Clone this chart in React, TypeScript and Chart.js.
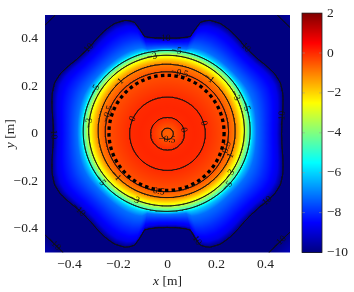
import React, { useEffect, useRef } from "react";
import { Chart, registerables } from "chart.js";
Chart.register(...registerables);

// ---- axes ----
const X_RANGE = [-0.5, 0.5];
const Y_RANGE = [-0.5, 0.5];
const CB_RANGE = [-10, 2];
const X_TICKS = [-0.4, -0.2, 0, 0.2, 0.4];
const Y_TICKS = [-0.4, -0.2, 0, 0.2, 0.4];
const CB_TICKS = [-10, -8, -6, -4, -2, 0, 2];

// ---- field ----
// radial profile inside the -5 contour (radius m -> value)
const profileR = [0, 0.024, 0.068, 0.11, 0.155, 0.205, 0.252, 0.28, 0.3, 0.318, 0.341];
const profileV = [-0.65, -0.5, 0, 0.06, 0, -0.25, -0.5, -1, -2, -3, -5];
// radius of the -10 contour vs polar angle (first quadrant, mirrored)
const edgeAngle = [0, 5, 10, 15, 20, 25, 30, 35, 40, 45, 50, 55, 60, 65, 70, 72, 74, 75.5, 77, 80, 85, 90];
const edgeR = [0.465, 0.468, 0.476, 0.488, 0.5, 0.508, 0.505, 0.495, 0.485, 0.482, 0.485, 0.495, 0.505, 0.512, 0.508, 0.5, 0.488, 0.455, 0.418, 0.408, 0.4, 0.398];
// fall-off between the -5 and -10 contours (normalised distance -> value)
const falloffU = [0, 0.08, 0.2, 0.5, 0.85, 1];
const falloffV = [-5, -6.2, -7.2, -8, -8.8, -10];
// corner cut |x|+|y| where the field climbs back to -10 (TL, TR, BL, BR)
const cornerSum = [0.958, 0.948, 0.926, 0.914];
const fieldShift = [-0.004, 0.014];

const contourLevels = [-10, -5, -3, -1, -0.5, 0];
const ringCenter = [-0.004, 0.004];
const ringRadius = 0.235;

// contour labels: level, direction from centre (deg), which crossing along the ray
const labelLevel = [-10, -10, -10, -10, -10, -10, -10, -10, -10, -10, -5, -5, -5, -5, -5, -3, -3, -3, -3, -3, -1, -1, -1, -1, -0.5, -0.5, -0.5, -0.5, -0.5, 0, 0, 0];
const labelAngle = [92.5, 133, 50, 8, 179, 221.5, 324, 284.5, 225, 315, 84, 148, 20, 216, 318, 101, 172, 30, 326, 244, 54, 133, 220, 338, 79, 161, 259, 344, 265, 156, 16.5, 14];
const labelNth = [1, 1, 1, 1, 1, 1, 1, 1, 2, 2, 1, 1, 1, 1, 1, 1, 1, 1, 1, 1, 1, 1, 1, 1, 2, 2, 2, 2, 1, 2, 2, 1];

// jet colormap
const jetPos = [0, 1 / 8, 3 / 8, 5 / 8, 7 / 8, 1];
const jetRGB = [[0, 0, 128], [0, 0, 255], [0, 255, 255], [255, 255, 0], [255, 0, 0], [128, 0, 0]];

const FONT = "'Liberation Serif', 'Times New Roman', serif";

function lerpTable(xs: number[], ys: number[], x: number): number {
  if (x <= xs[0]) return ys[0];
  for (let i = 1; i < xs.length; i++) {
    if (x <= xs[i]) {
      const t = (x - xs[i - 1]) / (xs[i] - xs[i - 1]);
      return ys[i - 1] + t * (ys[i] - ys[i - 1]);
    }
  }
  return ys[ys.length - 1];
}

function jet(v: number): number[] {
  let t = (v - CB_RANGE[0]) / (CB_RANGE[1] - CB_RANGE[0]);
  t = Math.max(0, Math.min(1, t));
  for (let i = 1; i < jetPos.length; i++) {
    if (t <= jetPos[i]) {
      const f = (t - jetPos[i - 1]) / (jetPos[i] - jetPos[i - 1]);
      const a = jetRGB[i - 1], b = jetRGB[i];
      return [a[0] + f * (b[0] - a[0]), a[1] + f * (b[1] - a[1]), a[2] + f * (b[2] - a[2])];
    }
  }
  return jetRGB[jetRGB.length - 1];
}

function field(x: number, y: number): number {
  const r0 = Math.hypot(x, y);
  const w = Math.exp(-Math.pow((r0 - 0.31) / 0.08, 2));
  const dx = x - fieldShift[0] * w;
  const dy = y - fieldShift[1] * w;
  const r = Math.hypot(dx, dy);
  const r5 = profileR[profileR.length - 1];
  let v: number;
  if (r <= r5) v = lerpTable(profileR, profileV, r);
  else {
    const th = (Math.atan2(Math.abs(dy), Math.abs(dx)) * 180) / Math.PI;
    const r10 = lerpTable(edgeAngle, edgeR, th);
    const u = (r - r5) / (r10 - r5);
    v = u <= 1 ? lerpTable(falloffU, falloffV, u) : Math.max(-12, -10 - 30 * (r - r10));
  }
  const q = (x < 0 ? 0 : 1) + (y < 0 ? 2 : 0);
  const vc = -10 + 8 * (Math.abs(x) + Math.abs(y) - cornerSum[q]);
  return Math.max(v, vc);
}

function fmt(v: number): string {
  return v < 0 ? "\u2212" + String(Math.abs(v)) : String(v);
}

const fieldPlugin = {
  id: "fieldPlugin",
  beforeDatasetsDraw(chart: any) {
    const { ctx, chartArea: a } = chart;
    const xs = chart.scales.x, ys = chart.scales.y;
    const L = Math.floor(a.left), T = Math.floor(a.top);
    const W = Math.ceil(a.right) - L, H = Math.ceil(a.bottom) - T;
    const off = document.createElement("canvas");
    off.width = W; off.height = H;
    const octx = off.getContext("2d")!;
    const img = octx.createImageData(W, H);
    for (let j = 0; j < H; j++) {
      const yv = ys.getValueForPixel(T + j + 0.5);
      for (let i = 0; i < W; i++) {
        const xv = xs.getValueForPixel(L + i + 0.5);
        const c = jet(field(xv, yv));
        const k = (j * W + i) * 4;
        img.data[k] = c[0]; img.data[k + 1] = c[1]; img.data[k + 2] = c[2]; img.data[k + 3] = 255;
      }
    }
    octx.putImageData(img, 0, 0);
    ctx.save();
    ctx.beginPath();
    ctx.rect(a.left, a.top, a.right - a.left, a.bottom - a.top);
    ctx.clip();
    ctx.drawImage(off, L, T);

    // contour lines (marching squares on a data grid)
    const N = 280;
    const gxv: number[] = [], gyv: number[] = [];
    for (let i = 0; i <= N; i++) {
      gxv.push(X_RANGE[0] + ((X_RANGE[1] - X_RANGE[0]) * i) / N);
      gyv.push(Y_RANGE[0] + ((Y_RANGE[1] - Y_RANGE[0]) * i) / N);
    }
    const vals = new Float64Array((N + 1) * (N + 1));
    for (let j = 0; j <= N; j++) for (let i = 0; i <= N; i++) vals[j * (N + 1) + i] = field(gxv[i], gyv[j]);
    const V = (i: number, j: number) => vals[j * (N + 1) + i];
    ctx.strokeStyle = "#111";
    ctx.lineWidth = 0.8;
    ctx.lineCap = "round";
    const seg = (p: number[], q: number[]) => {
      ctx.moveTo(xs.getPixelForValue(p[0]), ys.getPixelForValue(p[1]));
      ctx.lineTo(xs.getPixelForValue(q[0]), ys.getPixelForValue(q[1]));
    };
    for (const lev of contourLevels) {
      ctx.beginPath();
      for (let j = 0; j < N; j++) {
        for (let i = 0; i < N; i++) {
          const va = V(i, j), vb = V(i + 1, j), vc = V(i + 1, j + 1), vd = V(i, j + 1);
          const sa = va >= lev, sb = vb >= lev, sc = vc >= lev, sd = vd >= lev;
          if (sa === sb && sb === sc && sc === sd) continue;
          const x0 = gxv[i], x1 = gxv[i + 1], y0 = gyv[j], y1 = gyv[j + 1];
          const p: (number[] | null)[] = [null, null, null, null];
          if (sa !== sb) { const t = (lev - va) / (vb - va); p[0] = [x0 + t * (x1 - x0), y0]; }
          if (sb !== sc) { const t = (lev - vb) / (vc - vb); p[1] = [x1, y0 + t * (y1 - y0)]; }
          if (sc !== sd) { const t = (lev - vc) / (vd - vc); p[2] = [x1 - t * (x1 - x0), y1]; }
          if (sd !== sa) { const t = (lev - vd) / (va - vd); p[3] = [x0, y1 - t * (y1 - y0)]; }
          const list = p.filter((e) => e) as number[][];
          if (list.length === 2) seg(list[0], list[1]);
          else if (list.length === 4) {
            const ctr = (va + vb + vc + vd) / 4 >= lev;
            if (ctr === sa) { seg(p[0]!, p[1]!); seg(p[2]!, p[3]!); }
            else { seg(p[0]!, p[3]!); seg(p[1]!, p[2]!); }
          }
        }
      }
      ctx.stroke();
    }

    // dashed ring
    const cx = xs.getPixelForValue(ringCenter[0]), cy = ys.getPixelForValue(ringCenter[1]);
    const rp = xs.getPixelForValue(ringCenter[0] + ringRadius) - cx;
    ctx.beginPath();
    ctx.setLineDash([3.5, 3.3]);
    ctx.lineCap = "butt";
    ctx.lineWidth = 3.3;
    ctx.strokeStyle = "#000";
    ctx.arc(cx, cy, rp, 0, Math.PI * 2);
    ctx.stroke();
    ctx.setLineDash([]);

    // contour labels
    ctx.fillStyle = "#111";
    ctx.font = "9.5px " + FONT;
    ctx.textAlign = "center";
    ctx.textBaseline = "middle";
    for (let k = 0; k < labelLevel.length; k++) {
      const lev = labelLevel[k];
      const ang = (labelAngle[k] * Math.PI) / 180;
      const c = Math.cos(ang), s = Math.sin(ang);
      let prev = field(0, 0) >= lev;
      let rPrev = 0, count = 0, found = -1;
      for (let r = 0.002; r <= 0.7; r += 0.002) {
        const cur = field(r * c, r * s) >= lev;
        if (cur !== prev) {
          count++;
          if (count === labelNth[k]) {
            let lo = rPrev, hi = r;
            for (let it = 0; it < 30; it++) {
              const mid = (lo + hi) / 2;
              if ((field(mid * c, mid * s) >= lev) === prev) lo = mid; else hi = mid;
            }
            found = (lo + hi) / 2;
            break;
          }
        }
        prev = cur; rPrev = r;
      }
      if (found < 0) continue;
      const px = found * c, py = found * s;
      const e = 1e-4;
      const gx = (field(px + e, py) - field(px - e, py)) / (2 * e);
      const gy = (field(px, py + e) - field(px, py - e)) / (2 * e);
      let rot = Math.atan2(gx, gy);
      if (rot > Math.PI / 2) rot -= Math.PI;
      if (rot < -Math.PI / 2) rot += Math.PI;
      ctx.save();
      ctx.translate(xs.getPixelForValue(px), ys.getPixelForValue(py));
      ctx.rotate(rot);
      ctx.fillText(fmt(lev), 0, 0);
      ctx.restore();
    }
    ctx.restore();
  },
  afterDraw(chart: any) {
    const { ctx } = chart;
    const xs = chart.scales.x, ys = chart.scales.y;
    const measure = (v: string, rest: string) => {
      ctx.font = "italic 13.5px " + FONT;
      const w1 = ctx.measureText(v).width;
      ctx.font = "13.5px " + FONT;
      const w2 = ctx.measureText(rest).width;
      return [w1, w2];
    };
    ctx.save();
    ctx.fillStyle = "#222";
    ctx.textBaseline = "alphabetic";
    ctx.textAlign = "left";
    // x title
    let [w1, w2] = measure("x", " [m]");
    const xc = (xs.left + xs.right) / 2;
    let sx = xc - (w1 + w2) / 2;
    ctx.font = "italic 13.5px " + FONT;
    ctx.fillText("x", sx, 285);
    ctx.font = "13.5px " + FONT;
    ctx.fillText(" [m]", sx + w1, 285);
    // y title
    [w1, w2] = measure("y", " [m]");
    const yc = (ys.top + ys.bottom) / 2;
    ctx.translate(14.3, yc);
    ctx.rotate(-Math.PI / 2);
    sx = -(w1 + w2) / 2;
    ctx.font = "italic 13.5px " + FONT;
    ctx.fillText("y", sx, 0);
    ctx.font = "13.5px " + FONT;
    ctx.fillText(" [m]", sx + w1, 0);
    ctx.restore();
  },
};

const colorbarPlugin = {
  id: "colorbarPlugin",
  beforeDatasetsDraw(chart: any) {
    const { ctx, chartArea: a } = chart;
    const ys = chart.scales.y;
    ctx.save();
    for (let py = Math.floor(a.top); py < Math.ceil(a.bottom); py++) {
      const c = jet(ys.getValueForPixel(py + 0.5));
      ctx.fillStyle = `rgb(${c[0]},${c[1]},${c[2]})`;
      ctx.fillRect(a.left, py, a.right - a.left, 1);
    }
    ctx.strokeStyle = "rgba(150,150,150,0.7)";
    ctx.lineWidth = 0.7;
    ctx.beginPath();
    for (const t of CB_TICKS) {
      if (t === CB_RANGE[0] || t === CB_RANGE[1]) continue;
      const py = ys.getPixelForValue(t);
      ctx.moveTo(a.left, py); ctx.lineTo(a.left + 3, py);
      ctx.moveTo(a.right, py); ctx.lineTo(a.right - 3, py);
    }
    ctx.stroke();
    ctx.strokeStyle = "#222";
    ctx.lineWidth = 0.8;
    ctx.strokeRect(a.left, a.top, a.right - a.left, a.bottom - a.top);
    ctx.restore();
  },
};

const tickFont = { family: FONT, size: 13.5 };

export default function App() {
  const mainRef = useRef<HTMLCanvasElement>(null);
  const cbRef = useRef<HTMLCanvasElement>(null);

  useEffect(() => {
    const main = new Chart(mainRef.current!, {
      type: "scatter",
      data: { datasets: [] },
      options: {
        responsive: false,
        animation: false,
        events: [],
        layout: { padding: { left: 0, right: 64, top: 8.5, bottom: 0 } },
        plugins: { legend: { display: false }, tooltip: { enabled: false } },
        scales: {
          x: {
            type: "linear",
            min: X_RANGE[0],
            max: X_RANGE[1],
            afterBuildTicks: (s: any) => { s.ticks = X_TICKS.map((v) => ({ value: v })); },
            afterFit: (s: any) => { s.height = 39.5; },
            grid: { display: false, drawTicks: false },
            border: { display: false },
            ticks: { padding: 4, font: tickFont, color: "#222", maxRotation: 0, autoSkip: false, callback: (v: any) => fmt(Number(v)) },
          },
          y: {
            type: "linear",
            min: Y_RANGE[0],
            max: Y_RANGE[1],
            afterBuildTicks: (s: any) => { s.ticks = Y_TICKS.map((v) => ({ value: v })); },
            afterFit: (s: any) => { s.width = 45; },
            grid: { display: false, drawTicks: false },
            border: { display: false },
            ticks: { padding: 7, font: tickFont, color: "#222", autoSkip: false, callback: (v: any) => fmt(Number(v)) },
          },
        },
      },
      plugins: [fieldPlugin],
    } as any);

    const cb = new Chart(cbRef.current!, {
      type: "scatter",
      data: { datasets: [] },
      options: {
        responsive: false,
        animation: false,
        events: [],
        layout: { padding: { left: 6, right: 0, top: 8.5, bottom: 39.5 } },
        plugins: { legend: { display: false }, tooltip: { enabled: false } },
        scales: {
          x: { type: "linear", display: false, min: 0, max: 1 },
          y: {
            type: "linear",
            position: "right",
            min: CB_RANGE[0],
            max: CB_RANGE[1],
            afterBuildTicks: (s: any) => { s.ticks = CB_TICKS.map((v) => ({ value: v })); },
            afterFit: (s: any) => { s.width = 32; },
            grid: { display: false, drawTicks: false },
            border: { display: false },
            ticks: { padding: 5, font: tickFont, color: "#222", autoSkip: false, callback: (v: any) => fmt(Number(v)) },
          },
        },
      },
      plugins: [colorbarPlugin],
    } as any);

    return () => {
      main.destroy();
      cb.destroy();
    };
  }, []);

  return (
    <div style={{ position: "fixed", left: 0, top: 0, width: 354, height: 292, background: "#fff" }}>
      <canvas ref={mainRef} width={354} height={292} style={{ position: "absolute", left: 0, top: 0 }} />
      <canvas ref={cbRef} width={58} height={292} style={{ position: "absolute", left: 296, top: 0 }} />
    </div>
  );
}
